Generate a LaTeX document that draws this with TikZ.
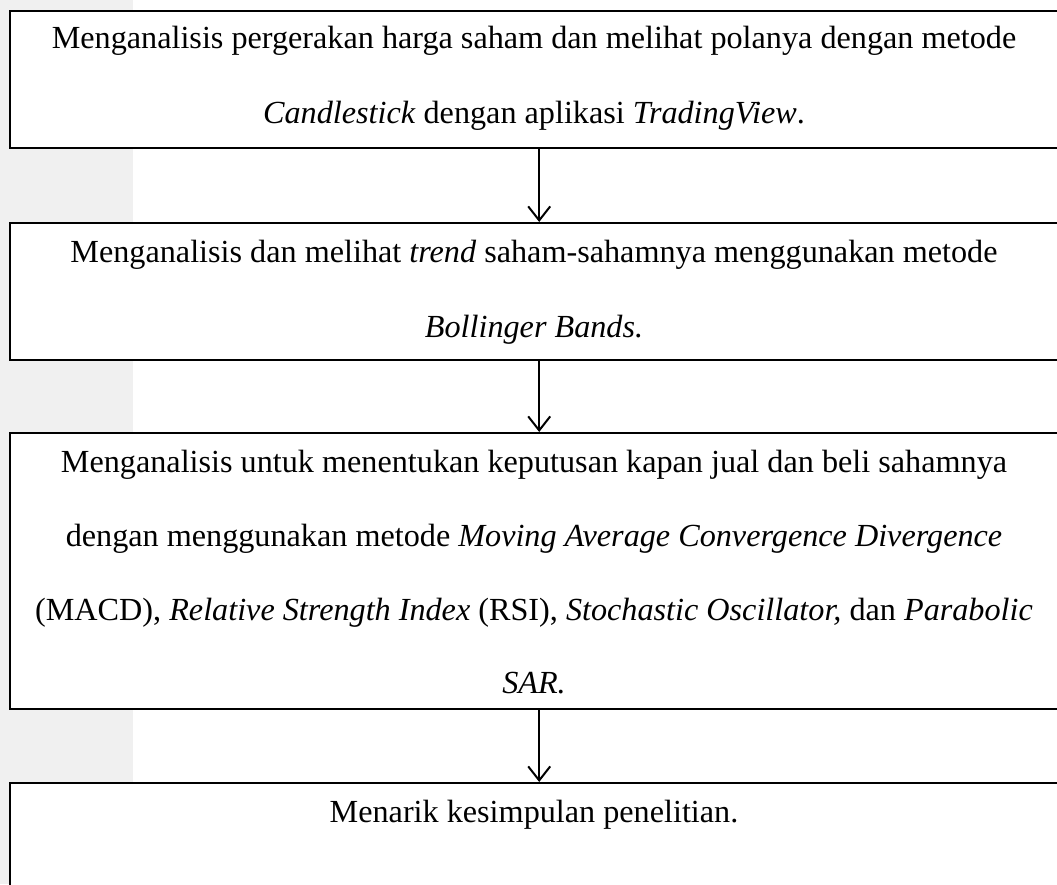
\documentclass[tikz,border=0pt]{standalone}
\usepackage{fontspec}
\setmainfont{Liberation Serif}
\usetikzlibrary{arrows.meta}
\begin{document}
\begin{tikzpicture}[x=1pt,y=1pt,
  flowbox/.style={draw=black,line width=2.4pt,fill=white,minimum width=1058pt,inner sep=0pt,anchor=north west},
  linetext/.style={anchor=base,inner sep=0pt,font=\fontsize{32.2}{36}\selectfont},
  flowarrow/.style={line width=2pt,-{Straight Barb[length=14pt,width=22pt,line width=2pt]}}]
\useasboundingbox (0,0) rectangle (1057,-884);
\clip (0,0) rectangle (1057,-884);
\fill[white] (0,0) rectangle (1057,-884);
\fill[black!6] (0,0) rectangle (133,-884);
% boxes
\node[flowbox,minimum height=137pt] (b1) at (9,-10) {};
\node[flowbox,minimum height=137pt] (b2) at (9,-222) {};
\node[flowbox,minimum height=276pt] (b3) at (9,-432) {};
\node[flowbox,minimum height=137pt] (b4) at (9,-782) {};
% texts
\node[linetext] (t1a) at (534,-48) {Menganalisis pergerakan harga saham dan melihat polanya dengan metode};
\node[linetext] (t1b) at (534,-123) {\textit{Candlestick} dengan aplikasi \textit{TradingView}.};
\node[linetext] (t2a) at (534,-262) {Menganalisis dan melihat \textit{trend} saham-sahamnya menggunakan metode};
\node[linetext] (t2b) at (534,-337) {\textit{Bollinger Bands.}};
\node[linetext] (t3a) at (534,-472) {Menganalisis untuk menentukan keputusan kapan jual dan beli sahamnya};
\node[linetext] (t3b) at (534,-546) {dengan menggunakan metode \textit{Moving Average Convergence Divergence}};
\node[linetext] (t3c) at (534,-620) {(MACD), \textit{Relative Strength Index} (RSI), \textit{Stochastic Oscillator,} dan \textit{Parabolic}};
\node[linetext] (t3d) at (534,-693) {\textit{SAR.}};
\node[linetext] (t4a) at (534,-822) {Menarik kesimpulan penelitian.};
% connectors
\draw[flowarrow] (b1.south) -- (b2.north);
\draw[flowarrow] (b2.south) -- (b3.north);
\draw[flowarrow] (b3.south) -- (b4.north);
\end{tikzpicture}
\end{document}
